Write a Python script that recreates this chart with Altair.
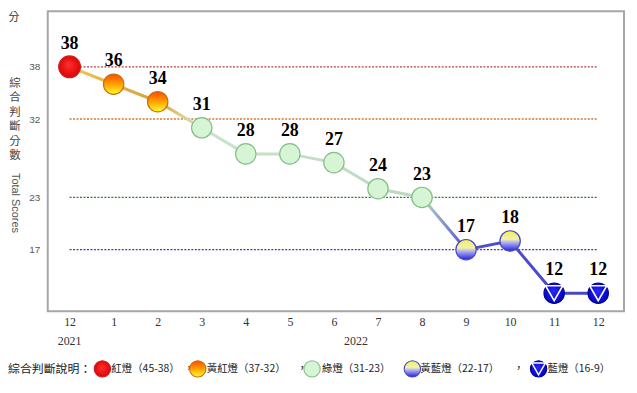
import json
import altair as alt
import pandas as pd

# ---------------- data ----------------
months = ["12", "1", "2", "3", "4", "5", "6", "7", "8", "9", "10", "11", "12"]
scores = [38, 36, 34, 31, 28, 28, 27, 24, 23, 17, 18, 12, 12]
signals = ["red", "yr", "yr", "green", "green", "green", "green", "green", "green",
           "yb", "yb", "blue", "blue"]
years = ["2021", "2022"]
year_pos = [0, 6.5]
thresholds = [38, 32, 23, 17]
title_chars = ["綜", "合", "判", "斷", "分", "數"]
legend_title = "綜合判斷說明："
legend_labels = ["紅燈（45-38）", "黃紅燈（37-32）", "綠燈（31-23）", "黃藍燈（22-17）", "藍燈（16-9）"]
legend_keys = ["red", "yr", "green", "yb", "blue"]

# ---------------- layout / style ----------------
W, H = 580, 302
rule_colors = ["#b04040", "#d07830", "#2f7f2f", "#3c3cb0"]
legend_sym_x = [55, 151, 266, 367, 494]
legend_txt_x = [64, 160, 276, 375, 503]
legend_comma_x = [142, 256, 360, 474]
legend_y = 360
char_y = [73 + 14.6 * k for k in range(len(title_chars))]


def lin(stops, vertical=True):
    return alt.LinearGradient(
        gradient="linear",
        stops=[alt.GradientStop(offset=o, color=c) for o, c in stops],
        x1=0, y1=0, x2=0 if vertical else 1, y2=1 if vertical else 0,
    )


def rad(stops):
    return alt.RadialGradient(
        gradient="radial",
        stops=[alt.GradientStop(offset=o, color=c) for o, c in stops],
        x1=0.45, y1=0.4, r1=0, x2=0.5, y2=0.5, r2=0.55,
    )


FILL = {
    "red": rad([(0, "#ff3030"), (1, "#d80000")]),
    "yr": lin([(0, "#ff4a00"), (0.5, "#ffa000"), (1, "#ffff30")]),
    "green": "#d5f5d5",
    "yb": lin([(0, "#f4f050"), (0.42, "#f0f0b0"), (0.6, "#a8a8f0"), (1, "#2020e0")]),
    "blue": rad([(0, "#2a2aff"), (1, "#0000b8")]),
}
STROKE = {"red": "#d02020", "yr": "#c87010", "green": "#86bd86", "yb": "#4646c0", "blue": "#0000a0"}
SIZE = {"red": 480, "yr": 420, "green": 420, "yb": 420, "blue": 420}

df = pd.DataFrame({"i": list(range(len(months))), "month": months, "score": scores, "sig": signals})
df_rules = pd.DataFrame({"v": thresholds, "x0": [0] * len(thresholds), "x1": [len(months) - 1] * len(thresholds)})
df_years = pd.DataFrame({"i": year_pos, "year": years})

xs = alt.Scale(domain=[-0.496, 12.586], nice=False, zero=False)
ys = alt.Scale(domain=[9.924, 44.39], nice=False, zero=False)

label_expr = json.dumps(months) + "[datum.value]"
x_axis = alt.Axis(values=list(range(len(months))), labelExpr=label_expr, grid=False, domain=False,
                  ticks=False, labelPadding=5, labelFont="Liberation Serif", labelFontSize=12,
                  labelColor="#333333", labelFlush=False, labelOverlap=False, title=None)
y_axis = alt.Axis(values=thresholds, grid=False, domain=False, ticks=False, labelPadding=8,
                  labelFont="Liberation Sans", labelFontSize=10, labelColor="#555555",
                  labelOverlap=False, title=None)

X = alt.X("i:Q", scale=xs, axis=x_axis)
Y = alt.Y("score:Q", scale=ys, axis=y_axis)

rules = alt.Chart(df_rules).mark_rule(strokeDash=[2, 1.5], strokeWidth=1.4).encode(
    x=alt.X("x0:Q", scale=xs, axis=x_axis),
    x2="x1:Q",
    y=alt.Y("v:Q", scale=ys, axis=y_axis),
    color=alt.Color("v:O", scale=alt.Scale(domain=thresholds, range=rule_colors), legend=None),
)

line_grad = lin([(0, "#f0c850"), (0.167, "#d4a040"), (0.21, "#e2cc80"), (0.25, "#c8e4c8"),
                 (0.667, "#bcd8c4"), (0.75, "#5050d0"), (1, "#4646c4")], vertical=False)
line = alt.Chart(df).mark_line(stroke=line_grad, strokeWidth=3).encode(x=X, y=Y)

layers = [rules, line]
for k in legend_keys:
    sub = df[df.sig == k]
    layers.append(
        alt.Chart(sub).mark_point(shape="circle", filled=True, fill=FILL[k], stroke=STROKE[k],
                                  strokeWidth=1.2, opacity=1, fillOpacity=1, size=SIZE[k]).encode(x=X, y=Y)
    )

tri = alt.Chart(df[df.sig == "blue"]).mark_point(shape="triangle-down", filled=False, stroke="white",
                                                 strokeWidth=1.6, opacity=1, size=300).encode(x=X, y=Y)
layers.append(tri)

labels = alt.Chart(df).mark_text(font="Liberation Serif", fontWeight="bold", fontSize=18, color="#000000",
                                 dy=-23, baseline="middle").encode(x=X, y=Y, text="score:Q")
layers.append(labels)

year_text = alt.Chart(df_years).mark_text(font="Liberation Serif", fontSize=12, color="#333333",
                                          baseline="middle").encode(
    x=X, y=alt.value(332), text="year:N")
layers.append(year_text)

# left-side titles
side = pd.DataFrame({"t": ["分"]})
layers.append(alt.Chart(side).mark_text(font="Noto Sans CJK TC", fontSize=11, color="#333333",
                                        baseline="middle").encode(
    x=alt.value(-34), y=alt.value(7), text="t:N"))
stack = pd.DataFrame({"t": title_chars, "py": char_y})
layers.append(alt.Chart(stack).mark_text(font="Noto Sans CJK TC", fontSize=11.5, color="#444444",
                                         baseline="middle").encode(
    x=alt.value(-33), y=alt.Y("py:Q", scale=None), text="t:N"))
ts = pd.DataFrame({"t": ["Total Scores"]})
layers.append(alt.Chart(ts).mark_text(font="Liberation Sans", fontSize=11, color="#555555",
                                      baseline="middle", angle=90).encode(
    x=alt.value(-33), y=alt.value(193), text="t:N"))

# legend
lt = pd.DataFrame({"t": [legend_title]})
layers.append(alt.Chart(lt).mark_text(font="Noto Sans CJK TC", fontSize=12, color="#222222",
                                      align="left", baseline="middle").encode(
    x=alt.value(-40), y=alt.value(legend_y), text="t:N"))
ltxt = pd.DataFrame({"px": legend_txt_x, "t": legend_labels})
layers.append(alt.Chart(ltxt).mark_text(font="Noto Sans CJK TC", fontSize=10.5, color="#222222",
                                        align="left", baseline="middle").encode(
    x=alt.X("px:Q", scale=None), y=alt.value(legend_y), text="t:N"))
lcomma = pd.DataFrame({"px": legend_comma_x, "t": ["，"] * len(legend_comma_x)})
layers.append(alt.Chart(lcomma).mark_text(font="Noto Sans CJK TC", fontSize=11, color="#222222",
                                          align="center", baseline="middle").encode(
    x=alt.X("px:Q", scale=None), y=alt.value(legend_y), text="t:N"))
for k, px in zip(legend_keys, legend_sym_x):
    d = pd.DataFrame({"px": [px], "k": [k]})
    layers.append(alt.Chart(d).mark_point(shape="circle", filled=True, fill=FILL[k], stroke=STROKE[k],
                                          strokeWidth=1.1, opacity=1, fillOpacity=1, size=270).encode(
        x=alt.X("px:Q", scale=None), y=alt.value(legend_y)))
    if k == "blue":
        layers.append(alt.Chart(d).mark_point(shape="triangle-down", filled=False, stroke="white",
                                              strokeWidth=1.4, opacity=1, size=190).encode(
            x=alt.X("px:Q", scale=None), y=alt.value(legend_y)))

chart = alt.layer(*layers).properties(
    width=W, height=H,
    autosize=alt.AutoSizeParams(type="none"),
    padding={"left": 40, "top": 2, "right": 5, "bottom": 75},
    background="white",
).configure_view(stroke="#a6a6a6", strokeWidth=2)

chart.save("out.html", embed_options={"renderer": "svg", "actions": False})
